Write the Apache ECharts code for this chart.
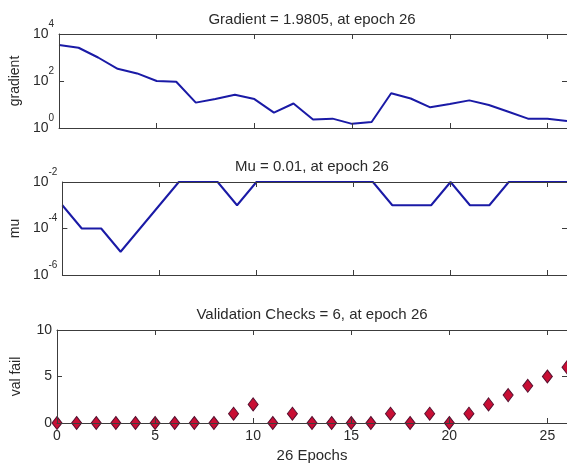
<!DOCTYPE html>
<html>
<head>
<meta charset="utf-8">
<script src="https://cdn.jsdelivr.net/npm/echarts@6/dist/echarts.min.js"></script>
<style>
  html, body { margin: 0; padding: 0; background: #fff; }
  #chart { width: 567px; height: 467px; }
</style>
</head>
<body>
<div id="chart"></div>
<script>
// epochs 0..26
const epochs = [0,1,2,3,4,5,6,7,8,9,10,11,12,13,14,15,16,17,18,19,20,21,22,23,24,25,26];
const gradient = [3400,2600,1000,330,210,100,93,12,17,26,17,4.5,11,2.3,2.5,1.5,1.8,30,18,7.6,10.5,15,9.5,4.9,2.5,2.5,1.9805];
const mu = [1e-3,1e-4,1e-4,1e-5,1e-4,1e-3,1e-2,1e-2,1e-2,1e-3,1e-2,1e-2,1e-2,1e-2,1e-2,1e-2,1e-2,1e-3,1e-3,1e-3,1e-2,1e-3,1e-3,1e-2,1e-2,1e-2,1e-2];
const valFail = [0,0,0,0,0,0,0,0,0,1,2,0,1,0,0,0,0,1,0,1,0,1,2,3,4,5,6];
const xTicks = [0,5,10,15,20,25];
const gradTicks = [1,100,10000];
const muTicks = [1e-6,1e-4,1e-2];
const valTicks = [0,5,10];

const titles = ['Gradient = 1.9805, at epoch 26', 'Mu = 0.01, at epoch 26', 'Validation Checks = 6, at epoch 26'];
const yNames = ['gradient', 'mu', 'val fail'];

const font = 'Liberation Sans, Arial, sans-serif';
const axisColor = '#3c3c3c';
const textColor = '#2a2a2a';
const lineColor = '#1a1aa6';

const grids = [
  { left: 57, right: -1, top: 34, height: 94 },
  { left: 57, right: -1, top: 182, height: 93 },
  { left: 57, right: -1, top: 330, height: 93 }
];

function pow10Label(v) {
  const e = Math.round(Math.log10(v));
  return '{b|10}{s|' + e + '}';
}
const powRich = {
  b: { fontSize: 14, fontFamily: font, color: textColor, lineHeight: 22, verticalAlign: 'bottom' },
  s: { fontSize: 10, fontFamily: font, color: textColor, lineHeight: 10, verticalAlign: 'top' }
};

const xAxis = [];
const yAxis = [];
grids.forEach((g, i) => {
  ['bottom', 'top'].forEach(pos => {
    xAxis.push({
      type: 'value', gridIndex: i, position: pos, min: 0, max: 26, z: 5,
      axisLine: { show: true, onZero: false, lineStyle: { color: axisColor, width: 1 } },
      axisTick: { show: true, inside: true, length: 5, customValues: xTicks, lineStyle: { color: axisColor } },
      axisLabel: {
        show: pos === 'bottom' && i === 2, customValues: xTicks, margin: 6,
        fontSize: 14, fontFamily: font, color: textColor
      },
      splitLine: { show: false }
    });
  });
  ['left', 'right'].forEach(pos => {
    const isLog = i < 2;
    const ticks = i === 0 ? gradTicks : (i === 1 ? muTicks : valTicks);
    const ax = {
      type: isLog ? 'log' : 'value', gridIndex: i, position: pos,
      min: ticks[0], max: ticks[2], z: 5,
      axisLine: { show: true, onZero: false, lineStyle: { color: axisColor, width: 1 } },
      axisTick: { show: true, inside: true, length: 5, customValues: ticks, lineStyle: { color: axisColor } },
      axisLabel: {
        show: pos === 'left', customValues: ticks, margin: 5,
        fontSize: 14, fontFamily: font, color: textColor
      },
      splitLine: { show: false }
    };
    if (isLog) {
      ax.logBase = 10;
      ax.axisLabel.formatter = pow10Label;
      ax.axisLabel.rich = powRich;
      ax.axisLabel.padding = [0, 0, 8, 0];
    }
    if (pos === 'left') {
      ax.name = yNames[i];
      ax.nameLocation = 'middle';
      ax.nameGap = isLog ? 36 : 34;
      ax.nameTextStyle = { fontSize: 14, fontFamily: font, color: textColor };
    }
    yAxis.push(ax);
  });
});

const option = {
  animation: false,
  backgroundColor: '#fff',
  title: titles.map((t, i) => ({
    text: t, left: 312, top: [12, 159, 307][i], textAlign: 'center', padding: 0,
    textStyle: { fontSize: 15, fontWeight: 'normal', fontFamily: font, color: textColor }
  })).concat([{
    text: '26 Epochs', left: 312, top: 448, textAlign: 'center', padding: 0,
    textStyle: { fontSize: 15, fontWeight: 'normal', fontFamily: font, color: textColor }
  }]),
  grid: grids,
  xAxis: xAxis,
  yAxis: yAxis,
  series: [
    {
      type: 'line', xAxisIndex: 0, yAxisIndex: 0,
      data: epochs.map((e, k) => [e, gradient[k]]),
      showSymbol: false, lineStyle: { color: lineColor, width: 2 }, clip: true
    },
    {
      type: 'line', xAxisIndex: 2, yAxisIndex: 2,
      data: epochs.map((e, k) => [e, mu[k]]),
      showSymbol: false, lineStyle: { color: lineColor, width: 2 }, clip: true
    },
    {
      type: 'scatter', xAxisIndex: 4, yAxisIndex: 4,
      data: epochs.map((e, k) => [e, valFail[k]]),
      symbol: 'diamond', symbolSize: [10, 13],
      itemStyle: { color: '#c80e34', borderColor: '#561030', borderWidth: 1, opacity: 1 },
      clip: false
    }
  ]
};

const chart = echarts.init(document.getElementById('chart'), null, { renderer: 'canvas' });
chart.setOption(option);
</script>
</body>
</html>
